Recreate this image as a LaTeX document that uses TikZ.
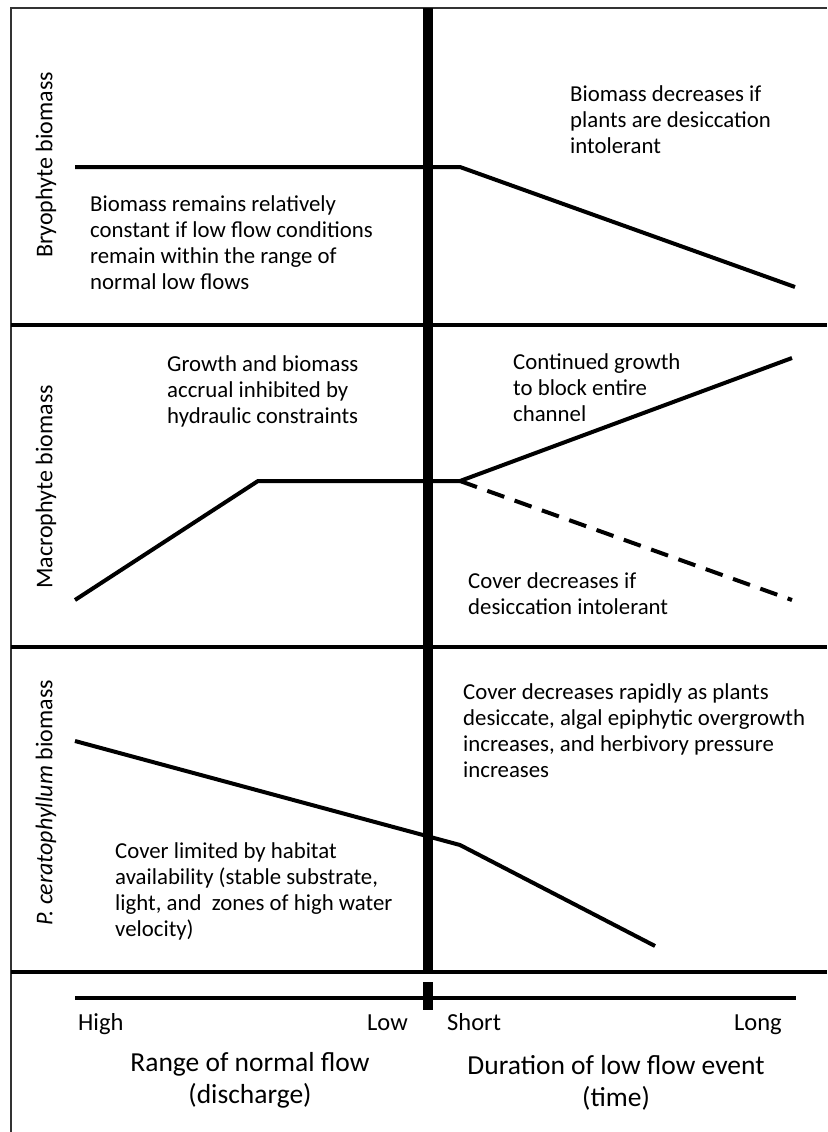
\documentclass[tikz,border=0pt]{standalone}
\usepackage{fontspec}
\setmainfont{Carlito}
\begin{document}
\begin{tikzpicture}[x=1pt,y=-1pt,
  divider/.style={line width=3.5pt, black},
  trend/.style={line width=4pt, black, line cap=butt},
  axisline/.style={line width=4pt, black},
  bigbar/.style={line width=10pt, black},
  note/.style={anchor=north west, inner sep=0pt, align=left, font=\fontsize{22.8}{26.3}\selectfont},
  ylab/.style={rotate=90, inner sep=0pt, font=\fontsize{24}{28}\selectfont},
  ticklab/.style={anchor=base west, inner sep=0pt, font=\fontsize{24.5}{28}\selectfont},
  xlab/.style={anchor=base, inner sep=0pt, font=\fontsize{27.5}{32}\selectfont}]
\useasboundingbox (0,0) rectangle (827,1132);
\fill[white] (0,0) rectangle (827,1132);
% frame
\coordinate (fTL) at (11,8);
\coordinate (fTR) at (827,8);
\coordinate (fBL) at (11,1132);
\draw[line width=1.8pt, black!80] (fBL) -- (fTL) -- (fTR);
% dividers
\coordinate (d1a) at (11,325); \coordinate (d1b) at (827,325);
\coordinate (d2a) at (11,647); \coordinate (d2b) at (827,647);
\coordinate (d3a) at (11,972); \coordinate (d3b) at (827,972);
\draw[divider] (d1a) -- (d1b);
\draw[divider] (d2a) -- (d2b);
\draw[divider] (d3a) -- (d3b);
% central bar
\coordinate (vT) at (428,8); \coordinate (vB) at (428,974);
\draw[bigbar] (vT) -- (vB);
\coordinate (vsT) at (428,982); \coordinate (vsB) at (428,1010);
\draw[bigbar] (vsT) -- (vsB);
% x axis
\coordinate (axL) at (75,998); \coordinate (axR) at (796,998);
\draw[axisline] (axL) -- (axR);
% bryophyte
\coordinate (b1) at (75,167); \coordinate (b2) at (460,167); \coordinate (b3) at (795,287);
\draw[trend] (b1) -- (b2) -- (b3);
% macrophyte
\coordinate (m1) at (75,600); \coordinate (m2) at (258,481); \coordinate (m3) at (460,481);
\coordinate (m4) at (792,358); \coordinate (m5) at (792,600);
\draw[trend] (m1) -- (m2) -- (m3) -- (m4);
\draw[trend, dash pattern=on 18pt off 11pt] (m3) -- (m5);
% P. ceratophyllum
\coordinate (p1) at (75,741); \coordinate (p2) at (460,845); \coordinate (p3) at (655,946);
\draw[trend] (p1) -- (p2) -- (p3);
% y labels
\node[ylab] (yl1) at (46,165) {Bryophyte biomass};
\node[ylab] (yl2) at (46,487) {Macrophyte biomass};
\node[ylab] (yl3) at (46,803) {\textit{P. ceratophyllum} biomass};
% notes
\node[note] (n1) at (570,85) {Biomass decreases if\\plants are desiccation\\intolerant};
\node[note] (n2) at (90,195) {Biomass remains relatively\\constant if low flow conditions\\remain within the range of\\normal low flows};
\node[note] (n3) at (167,355) {Growth and biomass\\accrual inhibited by\\hydraulic constraints};
\node[note] (n4) at (513,353) {Continued growth\\to block entire\\channel};
\node[note] (n5) at (468,572) {Cover decreases if\\desiccation intolerant};
\node[note] (n6) at (463,683) {Cover decreases rapidly as plants\\desiccate, algal epiphytic overgrowth\\increases, and herbivory pressure\\increases};
\node[note] (n7) at (115,842) {Cover limited by habitat\\availability (stable substrate,\\light, and\ \ zones of high water\\velocity)};
% tick labels
\node[ticklab] (tHigh) at (78,1030) {High};
\node[ticklab, anchor=base east] (tLow) at (408,1030) {Low};
\node[ticklab] (tShort) at (447,1030) {Short};
\node[ticklab, anchor=base east] (tLong) at (782,1030) {Long};
% axis titles
\node[xlab] (x1a) at (250,1071) {Range of normal flow};
\node[xlab] (x1b) at (250,1103) {(discharge)};
\node[xlab] (x2a) at (616,1074) {Duration of low flow event};
\node[xlab] (x2b) at (616,1106) {(time)};
\end{tikzpicture}
\end{document}
